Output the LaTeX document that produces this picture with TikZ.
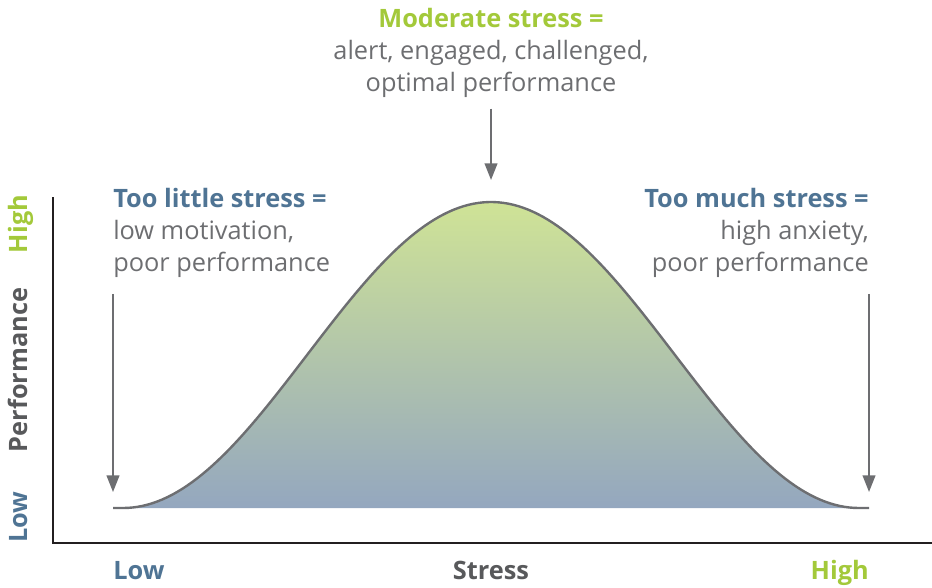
\documentclass[tikz,border=0pt]{standalone}
\usepackage{fontspec}
\setmainfont{Open Sans}
\usepackage{tikz}
\usetikzlibrary{arrows.meta}

\definecolor{lowblue}{HTML}{4F7494}
\definecolor{highgreen}{HTML}{A3C93A}
\definecolor{txtgray}{HTML}{6D6E71}
\definecolor{axisgray}{HTML}{58595B}
\definecolor{axisblack}{HTML}{231F20}
\definecolor{peakgreen}{HTML}{CFE396}
\definecolor{basegray}{HTML}{94A7BF}

\tikzset{
	pointer/.style={line width=1.5pt, txtgray, -{Triangle[length=12.5pt,width=9.5pt]}},
	labeltxt/.style={inner sep=0pt, font=\fontsize{19}{24}\selectfont, text=txtgray},
	axislabel/.style={inner sep=0pt, font=\fontsize{19}{24}\selectfont\bfseries},
}

\begin{document}
\begin{tikzpicture}[x=0.75pt, y=-0.75pt]
		\useasboundingbox (0,0) rectangle (932,587);
		% bell curve (raised cosine, half width 368)
		\shade [top color=peakgreen, bottom color=basegray] (113,508) -- plot [domain=123:859, samples=150] (\x, {508-153*(1+cos(0.48913*(\x-491)))}) -- (869,508) -- cycle;
		\draw [line width=1.8pt, txtgray] (113,508) -- plot [domain=123:859, samples=150] (\x, {508-153*(1+cos(0.48913*(\x-491)))}) -- (869,508);
		% axes
		\draw [line width=1.5pt, axisblack] (53,197) -- (53,543) -- (932,543);

		\node (midtxt) [labeltxt, anchor=north, align=center] at (491,8) {\textcolor{highgreen}{\bfseries Moderate stress =}\\alert, engaged, challenged,\\optimal performance};
		\node (lowtxt) [labeltxt, anchor=north west, align=left] at (113,188) {\textcolor{lowblue}{\bfseries Too little stress =}\\low motivation,\\poor performance};
		\node (hightxt) [labeltxt, anchor=north east, align=right] at (869,188) {\textcolor{lowblue}{\bfseries Too much stress =}\\high anxiety,\\poor performance};

		\coordinate (peak) at (491,180);
		\coordinate (lowend) at (113,492);
		\coordinate (highend) at (869,492);
		\draw [pointer] ([yshift=-8pt]midtxt.south) -- (peak);
		\draw [pointer] ([yshift=-12pt]lowtxt.south west) -- (lowend);
		\draw [pointer] ([yshift=-12pt]hightxt.south east) -- (highend);

		% axis labels
		\node (perfhigh) [axislabel, text=highgreen, rotate=90, anchor=base] at (27,224) {High};
		\node (perf) [axislabel, text=axisgray, rotate=90, anchor=base] at (27,370) {Performance};
		\node (perflow) [axislabel, text=lowblue, rotate=90, anchor=base] at (27,517) {Low};
		\node (stresslow) [axislabel, text=lowblue, anchor=base west] at (113,579) {Low};
		\node (stress) [axislabel, text=axisgray, anchor=base] at (491,579) {Stress};
		\node (stresshigh) [axislabel, text=highgreen, anchor=base east] at (869,579) {High};
\end{tikzpicture}
\end{document}
